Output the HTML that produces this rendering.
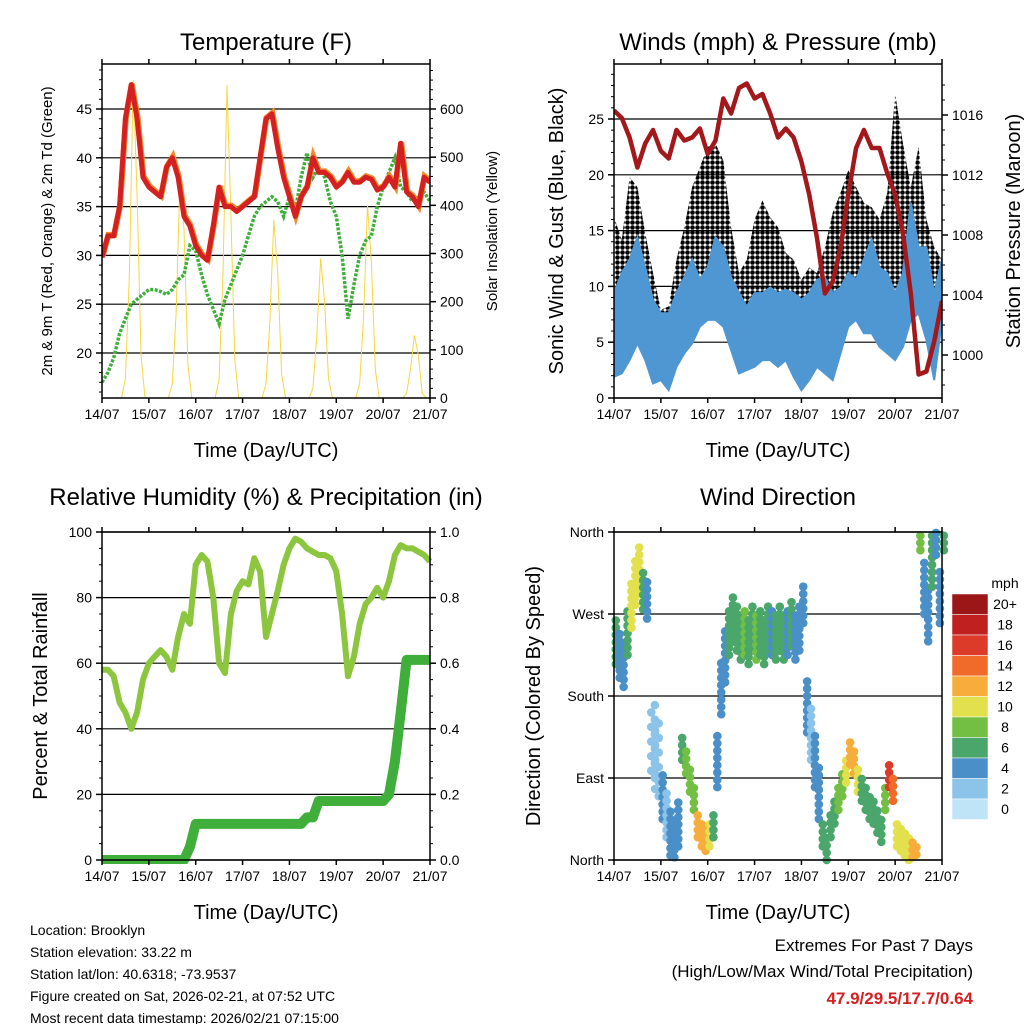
<!DOCTYPE html>
<html><head><meta charset="utf-8"><style>
body{margin:0;background:#fff;}
svg{display:block;font-family:"Liberation Sans",sans-serif;}
</style></head><body>
<svg id="chart" width="1024" height="1024" viewBox="0 0 1024 1024">
<defs>
<pattern id="dots" width="5" height="5" patternUnits="userSpaceOnUse"><circle cx="2.5" cy="2.5" r="2.3" fill="#000"/></pattern>
</defs>
</svg>
<script>
// ---- data (hours since 14/07 00 UTC) ----
const dayLabels=["14/07","15/07","16/07","17/07","18/07","19/07","20/07","21/07"];
const tempHours=[0,3,6,9,12,15,18,21,24,27,30,33,36,39,42,45,48,51,54,57,60,63,66,69,72,75,78,81,84,87,90,93,96,99,102,105,108,111,114,117,120,123,126,129,132,135,138,141,144,147,150,153,156,159,162,165,168];
const tempRed=[29.8,32,32,35,44,47.5,44,38,37,36.5,36,39,40,38,34,33,31,30,29.5,33,37,35,35,34.5,35,35.5,36,40,44,44.5,41,38,36,34,36,37,40,38.5,38.5,38,37,37.5,38.5,37.5,37.5,38,37.8,36.7,37,38,37,41.5,36.5,36,35,38,37.5];
const dewGreen=[17,18,19.5,22,23.5,25,25.5,26,26.5,26.5,26.3,26,26.5,27.5,28,31,30.5,28,26,24.5,23,25.5,27,28.5,30,32,34,35,35.5,36,35.5,34,36,34.5,38,40.5,38,39,38,35.5,34,30,23.5,27,30,31.5,32,35,37,38.5,40,37,36.5,35.5,36,36.5,35.5];
const solarHours=[];for(let h=0;h<=168;h+=2)solarHours.push(h);
const solar=[0,0,0,0,0,0,40,250,660,420,90,0, 0,0,0,0,0,0,30,180,470,350,70,0, 0,0,0,0,0,0,40,260,650,380,80,0, 0,0,0,0,0,0,30,160,370,260,50,0, 0,0,0,0,0,0,20,130,290,200,40,0, 0,0,0,0,0,0,30,170,400,280,60,0, 0,0,0,0,0,0,10,60,130,90,10,0, 0];
const windHours=[0,4,8,12,16,20,24,28,32,36,40,44,48,52,56,60,64,68,72,76,80,84,88,92,96,100,104,108,112,116,120,124,128,132,136,140,144,148,152,156,160,164,168];
const windHi=[9.4,11.2,12.4,14.4,11.7,8.8,7.6,7.6,9.4,10.8,12.4,10.6,11.7,14.4,13.5,10.8,9.4,8.2,9.4,9.4,9.9,9.4,9.7,9.4,8.8,9.4,10.6,10.8,9.4,9.9,11.2,10.6,12.4,14.2,11.7,11.2,9.4,11.2,17.5,13.5,13.5,9.4,12.4];
const windLo=[1.9,2.2,3.4,4.9,3.4,1.3,1.6,0.7,2.8,4.0,4.9,6.4,7.0,7.0,6.4,4.3,2.2,2.5,2.8,3.4,3.4,2.8,3.4,1.9,0.7,1.6,2.8,2.2,1.6,4.0,6.4,7.0,5.8,5.8,4.6,4.0,3.4,4.6,7.0,7.6,5.2,1.6,7.0];
const gustHi=[16.2,14.2,19.8,18.9,14.8,11.2,7.9,8.2,12.4,15.3,18.9,20.7,22.5,22.8,21.3,15.3,11.2,12.4,16.0,17.7,16.2,15.3,13.0,12.4,10.6,11.7,11.2,13.5,16.6,18.4,20.4,18.9,17.5,17.1,16.0,18.4,27.3,22.8,18.9,22.5,16.0,13.5,12.4];
const pressure=[1016.3,1015.8,1014.5,1012.5,1014.1,1015.0,1013.6,1013.1,1015.0,1014.3,1014.5,1015.1,1013.4,1014.3,1017.1,1016.1,1017.8,1018.1,1017.1,1017.4,1016.1,1014.5,1015.1,1014.5,1012.9,1010.7,1007.8,1004.1,1004.9,1007.1,1010.7,1013.8,1015.0,1013.8,1013.8,1012.1,1010.7,1008.1,1004.1,998.7,998.9,1000.9,1003.6];
const rhHours=tempHours;
const rh=[58,58,56,48,45,40,45,55,60,62,64,62,58,68,75,72,90,93,91,80,60,57,75,82,85,84,92,88,68,75,82,90,95,98,97,95,94,93,93,92,88,75,56,62,72,78,80,83,80,85,93,96,95,95,94,93,91];
const precip=[0,0,0,0,0,0,0,0,0,0,0,0,0,0,0,0.04,0.11,0.11,0.11,0.11,0.11,0.11,0.11,0.11,0.11,0.11,0.11,0.11,0.11,0.11,0.11,0.11,0.11,0.11,0.11,0.13,0.13,0.18,0.18,0.18,0.18,0.18,0.18,0.18,0.18,0.18,0.18,0.18,0.18,0.20,0.30,0.45,0.61,0.61,0.61,0.61,0.61];
const dirHours=solarHours;
const windDir=[240,225,215,250,280,305,320,295,285,null,130,110,70,50,30,20,40,125,110,90,70,40,30,25,30,40,110,190,225,250,265,255,245,250,240,255,245,250,240,255,250,245,255,245,250,260,245,255,280,170,140,110,75,30,15,40,55,70,85,100,120,110,90,80,70,60,55,45,35,70,95,80,30,25,20,15,10,5,355,300,270,330,350,290,355];
const windSpd=[6,5,5,7,10,11,10,6,5,0,3,3,4,3,5,5,4,7,9,9,9,12,12,13,11,7,4,4,4,6,7,6,7,8,6,6,9,7,6,6,5,6,7,6,5,6,4,5,4,4,3,4,5,6,6,6,7,8,9,10,12,12,10,7,7,6,6,7,6,8,16,15,11,10,11,11,12,13,8,5,4,6,5,5,6];
const windDirSpread=[25,25,25,25,25,25,25,20,20,0,40,40,25,25,25,25,25,15,15,15,15,15,15,15,15,15,30,30,30,25,25,25,25,25,25,25,25,25,25,25,25,25,25,25,25,25,25,25,20,30,30,30,30,15,15,15,15,15,15,15,15,15,15,15,15,15,15,15,15,15,15,15,15,15,15,15,15,15,15,30,30,30,15,30,15];
const cbLabels=["20+","18","16","14","12","10","8","6","4","2","0"];
const cbColors=["#9b1617","#c0201f","#dc3b2a","#f06a2a","#f7ad3c","#e2e04c","#72bf44","#4aa66a","#4a8fc8","#8cc3e8","#bfe4f7"];

const NS="http://www.w3.org/2000/svg";
const svg=document.getElementById('chart');
function mk(tag,attrs,parent){const e=document.createElementNS(NS,tag);for(const k in attrs)e.setAttribute(k,attrs[k]);(parent||svg).appendChild(e);return e;}
function txt(s,x,y,size,anchor,parent,extra){const e=mk('text',Object.assign({x:x,y:y,'font-size':size,'text-anchor':anchor||'middle',fill:'#000'},extra||{}),parent);e.textContent=s;return e;}
function lin(d0,d1,r0,r1){return v=>r0+(v-d0)*(r1-r0)/(d1-d0);}

function panel(name,x0,x1,y0,y1){
  const g=mk('g',{});
  
  
  const xs=lin(0,168,x0,x1);
  return {g,x0,x1,y0,y1,xs};
}
function frame(P,title,xlabel,tOff){
  const g=P.g;
  const t=txt(title,(P.x0+P.x1)/2,P.y0-tOff,24,'middle',g);
  
  
  const b=mk('rect',{x:P.x0,y:P.y0,width:P.x1-P.x0,height:P.y1-P.y0,fill:'none',stroke:'#000','stroke-width':1.5},g);
  
  
  for(let i=0;i<dayLabels.length;i++){
    const x=P.xs(i*24);
    mk('line',{x1:x,x2:x,y1:P.y1,y2:P.y1+5,stroke:'#000','stroke-width':1.5},g);
    mk('line',{x1:x,x2:x,y1:P.y0,y2:P.y0-5,stroke:'#000','stroke-width':1.5},g);
    const l=txt(dayLabels[i],x,P.y1+21,14,'middle',g);
    
    
  }
  const xl=txt(xlabel,(P.x0+P.x1)/2,P.y1+59,20,'middle',g);
  
  
}
function yaxis(P,ys,ticks,labels,side,grid,minor){
  const g=P.g;
  const x=side==='l'?P.x0:P.x1;const dir=side==='l'?-1:1;
  if(minor){for(const m of minor){const y=ys(m);if(y<P.y0||y>P.y1)continue;mk('line',{x1:x,x2:x+dir*3,y1:y,y2:y,stroke:'#000','stroke-width':1},g);}}
  ticks.forEach((v,i)=>{const y=ys(v);
    if(grid)mk('line',{x1:P.x0,x2:P.x1,y1:y,y2:y,stroke:'#000','stroke-width':1.2},g);
    mk('line',{x1:x,x2:x+dir*6,y1:y,y2:y,stroke:'#000','stroke-width':1.5},g);
    const l=txt(labels[i],x+dir*10,y+5,14,side==='l'?'end':'start',g);
    
    
  });
}
function ytitle(P,s,x,size){
  const cy=(P.y0+P.y1)/2;
  const t=txt(s,x,cy,size,'middle',P.g,{transform:`rotate(-90 ${x} ${cy})`});
  
  
}
function pathOf(hs,vs,xs,ys){let d='';hs.forEach((h,i)=>{if(vs[i]==null)return;d+=(d?'L':'M')+xs(h).toFixed(1)+','+ys(vs[i]).toFixed(1);});return d;}
function rng(a,b,s){const r=[];for(let v=a;v<=b+1e-9;v+=s)r.push(+v.toFixed(4));return r;}

// ---- Panel 1: temperature ----
{
const P=panel('temperature-panel',102,430,64,398);
const ys=lin(20,45,353,109);
const ys2=lin(0,600,398,109);
const clip=mk('clipPath',{id:'c1'});mk('rect',{x:P.x0,y:P.y0,width:P.x1-P.x0,height:P.y1-P.y0},clip);
yaxis(P,ys,[20,25,30,35,40,45],['20','25','30','35','40','45'],'l',true,rng(16,49,1));
yaxis(P,ys2,[0,100,200,300,400,500,600],['0','100','200','300','400','500','600'],'r',false,rng(0,680,20));
const gc=mk('g',{'clip-path':'url(#c1)'},P.g);
const s=mk('path',{d:pathOf(solarHours,solar,P.xs,ys2),fill:'none',stroke:'#f5d742','stroke-width':1},gc);


const dw=mk('path',{d:pathOf(tempHours,dewGreen,P.xs,ys),fill:'none',stroke:'#3fae3a','stroke-width':3.5,'stroke-dasharray':'3 1.5'},gc);


const o=mk('path',{d:pathOf(tempHours,tempRed,P.xs,ys),fill:'none',stroke:'#f08a2a','stroke-width':6,transform:'translate(0.5,-1)'},gc);


const r=mk('path',{d:pathOf(tempHours,tempRed,P.xs,ys),fill:'none',stroke:'#d42020','stroke-width':5,'stroke-linejoin':'round'},gc);


frame(P,'Temperature (F)','Time (Day/UTC)',14);
ytitle(P,'2m & 9m T (Red, Orange) & 2m Td (Green)',52,15);
ytitle(P,'Solar Insolation (Yellow)',497,15);
}
// ---- Panel 2: winds ----
{
const P=panel('winds-panel',614,942,64,398);
const ys=lin(0,25,398,119);
const ys2=lin(1000,1016,355,115);
const clip=mk('clipPath',{id:'c2'});mk('rect',{x:P.x0,y:P.y0,width:P.x1-P.x0,height:P.y1-P.y0},clip);
yaxis(P,ys,[0,5,10,15,20,25],['0','5','10','15','20','25'],'l',true,rng(0,29,1));
yaxis(P,ys2,[1000,1004,1008,1012,1016],['1000','1004','1008','1012','1016'],'r',false,rng(998,1018,1));
const gc=mk('g',{'clip-path':'url(#c2)'},P.g);
let d=pathOf(windHours,gustHi,P.xs,ys);
for(let i=windHours.length-1;i>=0;i--)d+='L'+P.xs(windHours[i]).toFixed(1)+','+ys(windLo[i]).toFixed(1);
const gb=mk('path',{d:d+'Z',fill:'url(#dots)',stroke:'none'},gc);


let d2=pathOf(windHours,windHi,P.xs,ys);
for(let i=windHours.length-1;i>=0;i--)d2+='L'+P.xs(windHours[i]).toFixed(1)+','+ys(windLo[i]).toFixed(1);
const wb=mk('path',{d:d2+'Z',fill:'#4f97d3',stroke:'#4f97d3','stroke-width':2},gc);


const pr=mk('path',{d:pathOf(windHours,pressure,P.xs,ys2),fill:'none',stroke:'#a3191b','stroke-width':4.5,'stroke-linejoin':'round'},gc);


frame(P,'Winds (mph) & Pressure (mb)','Time (Day/UTC)',14);
ytitle(P,'Sonic Wind & Gust (Blue, Black)',563,20);
ytitle(P,'Station Pressure (Maroon)',1020,20);
}
// ---- Panel 3: RH & precip ----
{
const P=panel('humidity-precip-panel',102,430,532,860);
const ys=lin(0,100,860,532);
const ys2=lin(0,1,860,532);
const clip=mk('clipPath',{id:'c3'});mk('rect',{x:P.x0-4,y:P.y0,width:P.x1-P.x0+8,height:P.y1-P.y0+4},clip);
yaxis(P,ys,[0,20,40,60,80,100],['0','20','40','60','80','100'],'l',true,rng(0,100,5));
yaxis(P,ys2,[0,0.2,0.4,0.6,0.8,1.0],['0.0','0.2','0.4','0.6','0.8','1.0'],'r',false,rng(0,1,0.05));
const gc=mk('g',{'clip-path':'url(#c3)'},P.g);
const r=mk('path',{d:pathOf(rhHours,rh,P.xs,ys),fill:'none',stroke:'#8cc63f','stroke-width':6,'stroke-linejoin':'round'},gc);


const p=mk('path',{d:pathOf(rhHours,precip,P.xs,ys2),fill:'none',stroke:'#3fae3a','stroke-width':10,'stroke-linejoin':'round'},gc);


frame(P,'Relative Humidity (%) & Precipitation (in)','Time (Day/UTC)',27);
ytitle(P,'Percent & Total Rainfall',47,20);
}
// ---- Panel 4: wind direction ----
{
const P=panel('wind-direction-panel',614,942,532,860);
const ys=lin(0,360,860,532);
yaxis(P,ys,[0,90,180,270,360],['North','East','South','West','North'],'l',true,null);
const gc=mk('g',{},P.g);
dirHours.forEach((h,i)=>{
  if(windDir[i]==null)return;
  const ci=Math.min(10,Math.floor(windSpd[i]/2));
  const sp=windDirSpread[i];
  for(let dd=-sp;dd<=sp;dd+=8){
    const v=windDir[i]+dd;
    if(v<0||v>360)continue;
    const c=mk('circle',{cx:P.xs(h)+((dd/8)%2?1.8:-1.8),cy:ys(v),r:4.3,fill:cbColors[10-ci]},gc);
    
    
  }
});
frame(P,'Wind Direction','Time (Day/UTC)',27);
ytitle(P,'Direction (Colored By Speed)',540,20);
const cb=mk('g',{});


txt('mph',1005,588,14,'middle',cb);
cbLabels.forEach((l,i)=>{
  const y=594+i*20.5;
  mk('rect',{x:952,y:y,width:36,height:20.5,fill:cbColors[i],stroke:'#fff','stroke-width':0.5},cb);
  const t=txt(l,1005,y+15,14,'middle',cb);
  
  
});
}
// ---- footer ----
const info=["Location: Brooklyn","Station elevation: 33.22 m","Station lat/lon: 40.6318; -73.9537","Figure created on Sat, 2026-02-21, at 07:52 UTC","Most recent data timestamp: 2026/02/21 07:15:00"];
info.forEach((s,i)=>{const t=txt(s,30,935+i*22,14,'start');

});
const e1=txt('Extremes For Past 7 Days',973,951,17,'end');


const e2=txt('(High/Low/Max Wind/Total Precipitation)',973,977,17,'end');


const e3=txt('47.9/29.5/17.7/0.64',973,1004,17,'end',null,{fill:'#d42020','font-weight':'bold'});


</script>
</body></html>
